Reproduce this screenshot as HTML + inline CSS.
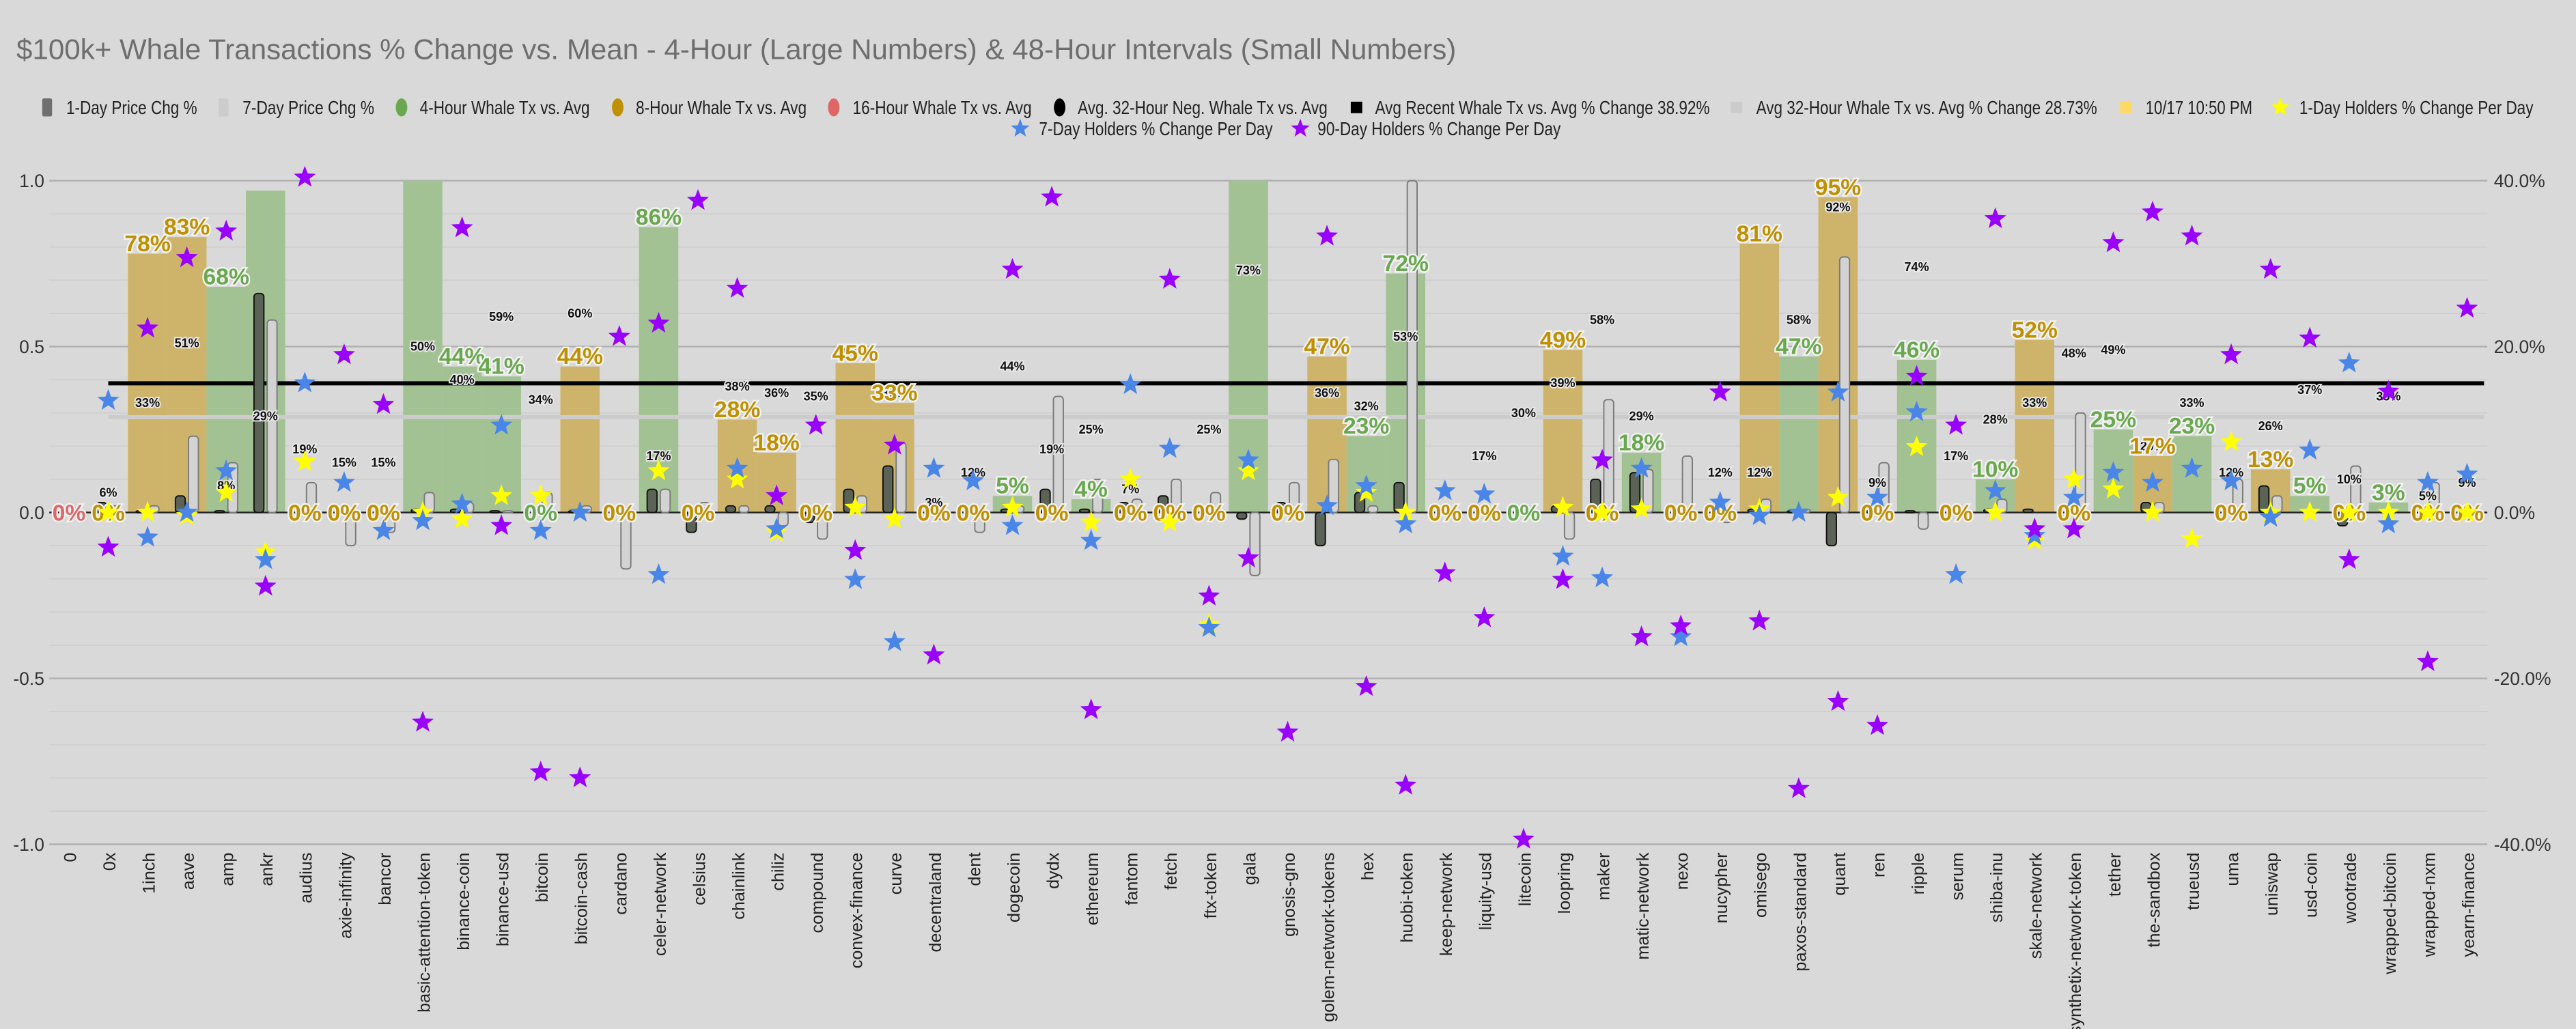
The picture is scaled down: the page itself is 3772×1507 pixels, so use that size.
<!DOCTYPE html>
<html><head><meta charset="utf-8"><style>
html,body{margin:0;padding:0;background:#d9d9d9;}
svg{display:block;font-family:"Liberation Sans",sans-serif;}
.big{font-weight:bold;font-size:14px;paint-order:stroke;stroke:#f2f2f2;stroke-width:2px;text-anchor:middle;}
.sm{font-weight:bold;font-size:7.5px;fill:#111;paint-order:stroke;stroke:#e8e8e8;stroke-width:1.6px;text-anchor:middle;dominant-baseline:central;}
.lg{font-size:11.5px;fill:#222;}
.ax{font-size:11px;fill:#333;}
.xl{font-size:10.5px;fill:#222;text-anchor:end;dominant-baseline:central;}
</style></head><body>
<svg id="chart" width="3772" height="1507" viewBox="0 0 1568 626.45" xmlns="http://www.w3.org/2000/svg">
<rect x="0" y="0" width="1568" height="626.45" fill="#d9d9d9"/>
<text x="10" y="36" font-size="17.5" fill="#6e6e6e">$100k+ Whale Transactions % Change vs. Mean - 4-Hour (Large Numbers) &amp; 48-Hour Intervals (Small Numbers)</text>
<g id="legend"></g>
<g id="grid"></g>
<g id="bigbars"></g>
<g id="lines"></g>
<g id="smallbars"></g>
<g id="labels"></g>
<g id="stars"></g>
<g id="axes"></g>
</svg>
<script>
const categories=["0","0x","1inch","aave","amp","ankr","audius","axie-infinity","bancor","basic-attention-token","binance-coin","binance-usd","bitcoin","bitcoin-cash","cardano","celer-network","celsius","chainlink","chiliz","compound","convex-finance","curve","decentraland","dent","dogecoin","dydx","ethereum","fantom","fetch","ftx-token","gala","gnosis-gno","golem-network-tokens","hex","huobi-token","keep-network","liquity-usd","litecoin","loopring","maker","matic-network","nexo","nucypher","omisego","paxos-standard","quant","ren","ripple","serum","shiba-inu","skale-network","synthetix-network-token","tether","the-sandbox","trueusd","uma","uniswap","usd-coin","wootrade","wrapped-bitcoin","wrapped-nxm","yearn-finance"];
// 4-hour (green) whale tx vs avg; null = none
const fourHour=[null,null,null,null,.68,.97,null,null,null,1.2,.44,.41,0,null,null,.86,null,null,null,null,null,null,null,null,.05,null,.04,null,null,null,1.2,null,null,.23,.72,null,null,0,null,null,.18,null,null,null,.47,null,null,.46,null,.10,null,null,.25,null,.23,null,null,.05,null,.03,null,null];
// 8-hour (gold) whale tx vs avg
const eightHour=[null,0,.78,.83,null,null,0,0,0,null,null,null,null,.44,0,null,0,.28,.18,0,.45,.33,0,0,null,0,null,0,0,0,null,0,.47,null,null,0,0,null,.49,0,null,0,0,.81,null,.95,0,null,0,null,.52,0,null,.17,null,0,.13,null,0,null,0,0];
// 48-hour small labels
const smallVals=[0,.06,.33,.51,.08,.29,.19,.15,.15,.50,.40,.59,.34,.60,0,.17,0,.38,.36,.35,.49,.36,.03,.12,.44,.19,.25,.07,0,.25,.73,0,.36,.32,.53,0,.17,.30,.39,.58,.29,0,.12,.12,.58,.92,.09,.74,.17,.28,.33,.48,.49,.20,.33,.12,.26,.37,.10,.35,.05,.09];
const dayPrice=[0,.03,.005,.05,.005,.66,0,0,0,.01,.01,.005,0,.005,0,.07,-.06,.02,.02,-.03,.07,.14,0,0,.01,.07,.01,.03,.05,0,-.02,.03,-.10,.06,.09,0,0,0,.02,.10,.12,0,0,.01,.005,-.10,.005,.005,0,.01,.01,0,0,.03,0,0,.08,0,-.04,0,0,0];
const weekPrice=[0,.02,.02,.23,.15,.58,.09,-.1,-.06,.06,.03,.005,.06,.02,-.17,.07,.03,.02,-.04,-.08,.05,.21,-.02,-.06,.02,.35,.1,.04,.1,.06,-.19,.09,.16,.02,1.2,0,0,0,-.08,.34,.13,.17,-.03,.04,.01,.77,.15,-.05,0,.04,0,.3,0,.03,0,.1,.05,0,.14,0,.09,0];
const holders7=[null,13.5,-3,0,5,-5.7,15.6,3.6,-2.2,-1,1,10.5,-2.2,0,null,-7.5,null,5.3,-2,null,-8.1,-15.6,5.3,3.8,-1.6,null,-3.4,15.4,7.7,-13.9,6.3,null,.8,3.2,-1.4,2.6,2.2,null,-5.3,-7.9,5.3,-15,1.2,-.4,0,14.5,1.8,12.1,-7.5,2.6,-2.8,1.8,4.8,3.6,5.3,3.8,-.6,7.5,18,-1.4,3.6,4.6];
const holders90=[null,-4.2,22.2,30.7,33.9,-8.9,40.4,19,13,-25.3,34.3,-1.6,-31.3,-32,21.2,22.8,37.6,27,2,10.5,-4.6,8.1,-17.2,null,29.3,38,-23.8,null,28.1,-10.1,-5.5,-26.5,33.3,-21,-32.9,-7.3,-12.7,-39.4,-8.1,6.3,-15,-13.7,14.5,-13.1,-33.3,-22.8,-25.7,16.4,10.5,35.4,-2,-2,32.5,36.2,33.3,19,29.3,21,-5.7,14.6,-18,24.6];
const holders1=[null,0,0,-.4,2.4,-4.8,6.1,null,null,0,-.8,2,2,0,null,5,null,4,-2.4,null,.6,-.8,null,null,.6,null,-1.2,4,-1.2,-13.5,5,null,null,2.4,0,null,null,null,.6,0,.4,null,null,.4,0,1.8,null,7.9,null,0,-3.4,4,2.8,0,-3.2,8.5,0,0,0,0,0,0];
const avgRecent=0.3892, avg32=0.2873;
const leftTicks=[1.0,0.5,0.0,-0.5,-1.0];
const rightTicks=[40,20,0,-20,-40];
const hiddenBigLabels=["ankr"];

const NS="http://www.w3.org/2000/svg";
const X0=30, STEP=23.93;
const xc=i=>X0+STEP*(i+0.5);
const yL=v=>312-v*202;
const yR=p=>312-p/40*202;
function mk(tag,attrs,parent,txt){const e=document.createElementNS(NS,tag);for(const k in attrs)e.setAttribute(k,attrs[k]);if(txt!=null)e.textContent=txt;parent.appendChild(e);return e;}
const G=id=>document.getElementById(id);
const clip=v=>Math.max(-1.02,Math.min(1.0,v));
function starPts(cx,cy,r){let p=[];for(let k=0;k<10;k++){const a=-Math.PI/2+k*Math.PI/5;const rr=k%2?r*0.42:r;p.push((cx+rr*Math.cos(a)).toFixed(2)+","+(cy+rr*Math.sin(a)).toFixed(2));}return p.join(" ");}

// grid
const grid=G('grid');
for(let k=-10;k<=10;k++){const v=k/10;const major=k%5===0;
 const l=mk('line',{x1:X0,x2:1514,y1:yL(v),y2:yL(v),stroke:major?'#b0b0b0':'#cfcfcf','stroke-width':major?1:0.8},grid);
 }

// big bars
const bb=G('bigbars');
categories.forEach((c,i)=>{
 [[fourHour[i],'#a2c293','bar-4-hour'],[eightHour[i],'#ceb46a','bar-8-hour']].forEach(([v,col,nm])=>{
  if(v==null||v===0)return;const top=yL(clip(v));
  const r=mk('rect',{x:xc(i)-STEP/2,y:top,width:STEP,height:yL(0)-top,fill:col},bb);
  });
});

// lines
const ln=G('lines');
let a=mk('line',{x1:xc(1),x2:1512,y1:yL(avg32),y2:yL(avg32),stroke:'#cccccc','stroke-width':2.5},ln);

a=mk('line',{x1:xc(1),x2:1512,y1:yL(avgRecent),y2:yL(avgRecent),stroke:'#000','stroke-width':2.5},ln);

a=mk('line',{x1:X0,x2:1514,y1:yL(0),y2:yL(0),stroke:'#222','stroke-width':1},ln);


// small bars
const sb=G('smallbars');
categories.forEach((c,i)=>{
 [[dayPrice[i],-4,'#5b6356','#111','day-price-bar'],[weekPrice[i],4,'#d3d3d3','#7a7a7a','week-price-bar']].forEach(([v,dx,f,s,nm])=>{
  if(v==null||v===0)return;const y0=yL(0),y1=yL(clip(v));
  const h=Math.max(Math.abs(y1-y0),1.2);
  const r=mk('rect',{x:xc(i)+dx-3,y:Math.min(y0,y1),width:6,height:h,rx:2,fill:f,stroke:s,'stroke-width':0.8},sb);
  });
});

// labels
const lb=G('labels');
categories.forEach((c,i)=>{
 const sv=smallVals[i];
 let t=mk('text',{x:xc(i),y:yL(sv),class:'sm'},lb,Math.round(sv*100)+'%');
 
 let v=null,col='#bf9000';
 if(fourHour[i]!=null){v=fourHour[i];col='#6aa84f';}else if(eightHour[i]!=null){v=eightHour[i];}
 if(i===0){v=0;col='#e06666';}
 if(v==null||v>1||hiddenBigLabels.includes(c))return;
 const y=v===0?yL(0)+5:yL(v)-1.5;
 t=mk('text',{x:xc(i),y:y,class:'big',fill:col},lb,Math.round(v*100)+'%');
 
});

// stars
const st=G('stars');
categories.forEach((c,i)=>{
 [[holders1[i],'#ffff00','one-day-holders-star'],[holders7[i],'#4a86e8','seven-day-holders-star'],[holders90[i],'#9900ff','ninety-day-holders-star']].forEach(([p,col,nm])=>{
  if(p==null)return;
  const s=mk('polygon',{points:starPts(xc(i),yR(Math.max(-40,Math.min(40.5,p))),7),fill:col},st);
  });
});

// axes
const ax=G('axes');
leftTicks.forEach(v=>{const t=mk('text',{x:27,y:yL(v)+4,class:'ax','text-anchor':'end'},ax,v.toFixed(1));
 });
rightTicks.forEach(p=>{const t=mk('text',{x:1518,y:yR(p)+4,class:'ax'},ax,p.toFixed(1)+'%');
 });
categories.forEach((c,i)=>{const x=xc(i)+1,y=519;
 const t=mk('text',{x:x,y:y,class:'xl',transform:`rotate(-90 ${x} ${y})`},ax,c);
 });

// legend: [shape, color, text, symbolX, textStart, textEnd]
const lg=G('legend');
const leg1=[
 ['rect','#6f6f6f','1-Day Price Chg %',28.7,40.3,120],
 ['rect','#cccccc','7-Day Price Chg %',136,147.7,227.8],
 ['circ','#6aa84f','4-Hour Whale Tx vs. Avg',244.4,255.5,359],
 ['circ','#bf9000','8-Hour Whale Tx vs. Avg',376,387,491],
 ['circ','#e06666','16-Hour Whale Tx vs. Avg',507.5,519,628],
 ['circ','#000000','Avg. 32-Hour Neg. Whale Tx vs. Avg',645,656,808],
 ['sq','#000000','Avg Recent Whale Tx vs. Avg % Change 38.92%',825.7,837,1040.7],
 ['sq','#cccccc','Avg 32-Hour Whale Tx vs. Avg % Change 28.73%',1057,1069,1276.5],
 ['sq','#ffd966','10/17 10:50 PM',1294,1306,1371],
 ['star','#ffff00','1-Day Holders % Change Per Day',1388,1399.6,1542]];
const leg2=[['star','#4a86e8','7-Day Holders % Change Per Day',621,632.5,774.7],['star','#9900ff','90-Day Holders % Change Per Day',791.5,802,950]];
function legItem(it,y){const [sh,col,txt,sx,tx,te]=it;
 const g=mk('g',{},lg);
 if(sh==='rect')mk('rect',{x:sx-3,y:y-5.5,width:6,height:11,rx:1,fill:col},g);
 else if(sh==='circ')mk('ellipse',{cx:sx,cy:y,rx:3.5,ry:5.5,fill:col},g);
 else if(sh==='sq')mk('rect',{x:sx-3.5,y:y-3.5,width:7,height:7,fill:col},g);
 else mk('polygon',{points:starPts(sx,y,6),fill:col},g);
 mk('text',{x:tx,y:y+4,class:'lg',textLength:(te-tx).toFixed(1),lengthAdjust:'spacingAndGlyphs'},g,txt);}
leg1.forEach(it=>legItem(it,65.4));
leg2.forEach(it=>legItem(it,78.3));
</script>
</body></html>
